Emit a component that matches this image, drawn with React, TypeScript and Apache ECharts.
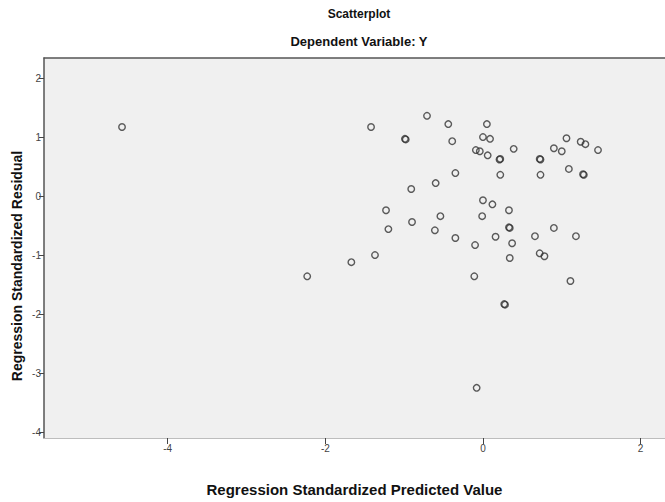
import React, { useEffect, useRef } from "react";
import * as echarts from "echarts";

const predicted: number[] = [
  -4.58, -1.42, -0.99, -0.98, -0.71, -0.44, -0.39, 0.05, 0.0, 0.09,
  -0.09, -0.04, 0.06, 0.22, 0.21, 0.39, -0.35, 0.22, -0.6, -0.91,
  -1.23, 0.0, 0.12, 0.33, -0.54, -0.01, -0.9, -1.2, -0.61, -0.35,
  -0.1, -1.37, -1.67, -0.11, -2.23, 0.33, 0.34, 0.9, 1.18, 0.16,
  0.66, 0.37, 0.72, 0.78, 0.34, 1.11, 0.27, 0.28, -0.08, 0.72,
  0.73, 0.73, 0.9, 1.0, 1.06, 1.24, 1.3, 1.46, 1.09, 1.27, 1.28,
];
const residual: number[] = [
  1.17, 1.17, 0.97, 0.96, 1.36, 1.22, 0.93, 1.22, 1.0, 0.97,
  0.78, 0.76, 0.69, 0.63, 0.62, 0.8, 0.39, 0.36, 0.22, 0.12,
  -0.24, -0.07, -0.14, -0.24, -0.34, -0.34, -0.44, -0.56, -0.58, -0.71,
  -0.83, -1.0, -1.12, -1.36, -1.36, -0.53, -0.54, -0.54, -0.68, -0.69,
  -0.68, -0.8, -0.97, -1.02, -1.05, -1.44, -1.83, -1.84, -3.25, 0.63,
  0.62, 0.36, 0.81, 0.76, 0.98, 0.92, 0.88, 0.78, 0.46, 0.37, 0.36,
];
const xTicks: number[] = [-4, -2, 0, 2];
const yTicks: number[] = [-4, -3, -2, -1, 0, 1, 2];

const chartTitle = "Scatterplot";
const chartSubtitle = "Dependent Variable: Y";
const xTitle = "Regression Standardized Predicted Value";
const yTitle = "Regression Standardized Residual";

export default function App() {
  const ref = useRef<HTMLDivElement>(null);
  useEffect(() => {
    if (!ref.current) return;
    const chart = echarts.init(ref.current, undefined, { renderer: "svg" });
    const points = predicted.map((x, i) => [x, residual[i]]);
    const font = "'Liberation Sans', Arial, sans-serif";
    chart.setOption({
      animation: false,
      backgroundColor: "#ffffff",
      title: [
        {
          text: chartTitle,
          left: 354,
          textAlign: "center",
          top: 3,
          textStyle: { fontFamily: font, fontSize: 12, fontWeight: "bold", color: "#111" },
        },
        {
          text: chartSubtitle,
          left: 354,
          textAlign: "center",
          top: 30,
          textStyle: { fontFamily: font, fontSize: 13, fontWeight: "bold", color: "#111" },
        },
      ],
      graphic: [
        {
          type: "text",
          x: 17,
          y: 266,
          rotation: Math.PI / 2,
          style: {
            text: yTitle,
            fontFamily: font,
            fontSize: 14,
            fontWeight: "bold",
            fill: "#111",
            textAlign: "center",
            textVerticalAlign: "middle",
          },
        },
      ],
      grid: {
        left: 44,
        top: 58,
        right: -2,
        bottom: 64,
        show: true,
        backgroundColor: "#f0f0f0",
        borderWidth: 0,
      },
      xAxis: [
        {
          type: "value",
          min: -5.57,
          max: 2.31,
          position: "bottom",
          splitLine: { show: false },
          axisLine: { show: true, onZero: false, lineStyle: { color: "#bdbdbd", width: 1 } },
          axisTick: { show: true, length: 6, customValues: xTicks, lineStyle: { color: "#444" } },
          axisLabel: {
            customValues: xTicks,
            fontFamily: font,
            fontSize: 10,
            color: "#444",
            margin: 5,
          },
          name: xTitle,
          nameLocation: "middle",
          nameGap: 44,
          nameTextStyle: { fontFamily: font, fontSize: 15, fontWeight: "bold", color: "#111" },
        },
        {
          type: "value",
          min: -5.57,
          max: 2.31,
          position: "top",
          splitLine: { show: false },
          axisLine: { show: true, onZero: false, lineStyle: { color: "#555", width: 1.5 } },
          axisTick: { show: false },
          axisLabel: { show: false },
        },
      ],
      yAxis: {
        type: "value",
        min: -4.1,
        max: 2.34,
        splitLine: { show: false },
        axisLine: { show: true, onZero: false, lineStyle: { color: "#555", width: 1.5 } },
        axisTick: { show: true, length: 5, customValues: yTicks, lineStyle: { color: "#444" } },
        axisLabel: {
          customValues: yTicks,
          fontFamily: font,
          fontSize: 10,
          color: "#444",
          margin: 3,
        },
      },
      series: [
        {
          type: "scatter",
          xAxisIndex: 0,
          data: points,
          symbol: "circle",
          symbolSize: 6.5,
          itemStyle: { color: "rgba(0,0,0,0)", borderColor: "#333", borderWidth: 1.4 },
          emphasis: { disabled: true },
        },
      ],
    });
    return () => chart.dispose();
  }, []);
  return (
    <div
      ref={ref}
      style={{ position: "fixed", left: 0, top: 0, width: 665, height: 502 }}
    />
  );
}
